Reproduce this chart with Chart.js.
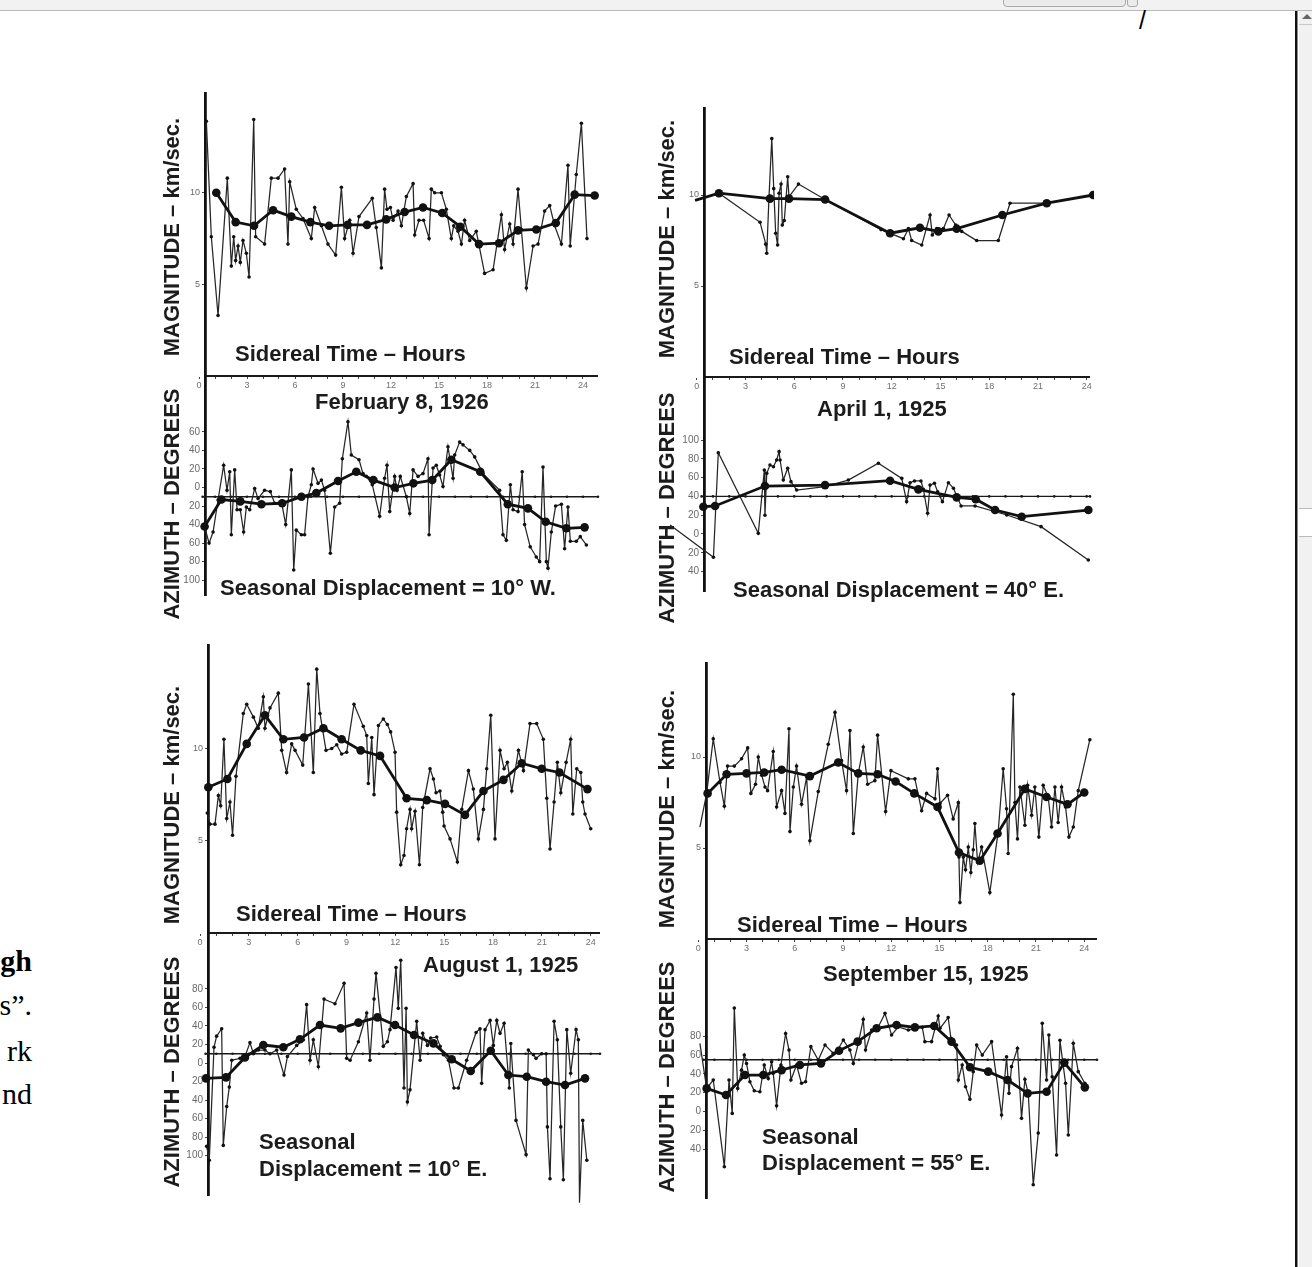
<!DOCTYPE html>
<html><head><meta charset="utf-8">
<script src="https://cdn.jsdelivr.net/npm/chart.js@4.4.1/dist/chart.umd.min.js"></script>
<style>
html,body{margin:0;padding:0;background:#fff;}
body{width:1312px;height:1267px;overflow:hidden;position:relative;font-family:"Liberation Sans",Arial,sans-serif;}
canvas{position:absolute;}
.t{position:absolute;font-weight:bold;font-size:22px;line-height:1;color:#1c1c1c;white-space:nowrap;transform:translateY(-50%);}
.r{position:absolute;font-weight:bold;font-size:22px;line-height:1;color:#1c1c1c;white-space:nowrap;transform:translate(-50%,-50%) rotate(-90deg);}
.frag{position:absolute;left:-300px;width:332px;text-align:right;font-family:"Liberation Serif","Times New Roman",serif;font-size:30px;line-height:1;color:#000;white-space:nowrap;}
</style></head><body>

<div style="position:absolute;left:0;top:0;width:1312px;height:10px;background:#f2f2f2;border-bottom:1px solid #b9b9b9;"></div>
<div style="position:absolute;left:1003px;top:-2px;width:121px;height:7px;background:#ebebeb;border:1px solid #a9a9a9;border-radius:0 0 4px 4px;"></div>
<div style="position:absolute;left:1127px;top:-2px;width:9px;height:7px;background:#ebebeb;border:1px solid #a9a9a9;border-radius:0 0 3px 3px;"></div>
<div style="position:absolute;left:1139px;top:8px;font-size:25px;line-height:1;font-family:'Liberation Sans',Arial,sans-serif;color:#000;">/</div>
<div style="position:absolute;left:1295px;top:11px;width:2px;height:1256px;background:#111;"></div>
<div style="position:absolute;left:1297px;top:11px;width:1px;height:1256px;background:#888;"></div>
<div style="position:absolute;left:1299px;top:11px;width:13px;height:1256px;background:#f1f1f1;"></div>
<div style="position:absolute;left:1299px;top:24px;width:13px;height:1px;background:#c8c8c8;"></div>
<div style="position:absolute;left:1302px;top:14px;width:0;height:0;border-left:5px solid transparent;border-right:5px solid transparent;border-bottom:5px solid #666;"></div>
<div style="position:absolute;left:1299px;top:508px;width:13px;height:27px;background:#fff;border-top:1px solid #bbb;border-bottom:1px solid #bbb;"></div>

<div class="frag" style="top:946px;font-weight:bold;">gh</div>
<div class="frag" style="top:990px;">s”.</div>
<div class="frag" style="top:1036px;">rk</div>
<div class="frag" style="top:1079px;">nd</div>

<script>
// ---------------- DATA (hours, value) ----------------
const hourTicks = [0,1,2,3,4,5,6,7,8,9,10,11,12,13,14,15,16,17,18,19,20,21,22,23,24];
const magTicks = [5,10];
const panelDates = ["February 8, 1926","April 1, 1925","August 1, 1925","September 15, 1925"];
const displacementDeg = [-10, 40, 10, 55];
const displacementText = ["Seasonal Displacement = 10° W.","Seasonal Displacement = 40° E.","Seasonal Displacement = 10° E.","Seasonal Displacement = 55° E."];
const febAzTicks = [60,40,20,0,-20,-40,-60,-80,-100];
const aprAzTicks = [100,80,60,40,20,0,-20,-40];
const augAzTicks = [80,60,40,20,0,-20,-40,-60,-80,-100];
const sepAzTicks = [80,60,40,20,0,-20,-40];

const febMagRaw = [[0.46,13.9],[0.77,7.6],[1.19,3.3],[1.77,10.8],[2.02,6.0],[2.17,7.6],[2.29,6.3],[2.44,7.1],[2.58,6.2],[2.75,7.4],[2.96,6.7],[3.13,5.4],[3.42,14.0],[3.54,7.6],[4.1,7.2],[4.52,10.8],[4.94,10.8],[5.35,11.3],[5.56,7.2],[5.67,10.6],[6.08,9.1],[6.5,8.6],[7.02,7.5],[7.23,9.2],[7.65,8.2],[8.06,7.2],[8.54,6.6],[8.9,10.3],[9.1,7.5],[9.42,8.5],[9.63,6.7],[10.0,8.7],[10.83,9.7],[11.08,8.1],[11.4,5.9],[11.6,10.2],[11.75,9.1],[11.96,9.2],[12.13,8.5],[12.44,9.0],[12.65,8.2],[12.96,9.8],[13.38,10.5],[13.48,7.7],[13.75,8.5],[14.04,8.5],[14.38,7.5],[14.52,10.2],[14.73,10.0],[15.15,10.0],[15.46,9.1],[15.77,7.5],[15.92,8.2],[16.19,7.9],[16.4,7.2],[16.6,8.5],[16.92,7.4],[17.33,7.9],[17.85,5.6],[18.38,5.8],[18.9,8.8],[19.1,6.9],[19.42,8.3],[19.63,7.2],[19.94,10.2],[20.15,8.0],[20.46,4.8],[20.88,7.1],[21.19,7.2],[21.6,9.0],[21.92,9.3],[22.23,8.2],[22.65,7.2],[23.06,11.5],[23.2,7.1],[23.58,11.0],[23.9,13.8],[24.25,7.5]];
const febMagSmooth = [[1.08,10.0],[2.29,8.4],[3.44,8.2],[4.63,9.05],[5.77,8.7],[6.96,8.4],[8.13,8.2],[9.29,8.25],[10.5,8.25],[11.7,8.55],[12.85,8.95],[14.0,9.2],[15.2,8.9],[16.33,8.15],[17.5,7.2],[18.75,7.25],[19.94,7.95],[21.08,8.0],[22.3,8.35],[23.48,9.9],[24.73,9.85]];
const febAzRaw = [[0.35,-42],[0.63,-60],[0.88,-48],[1.19,-13.5],[1.54,24],[1.75,-3],[1.92,17],[2.02,-51],[2.23,19],[2.38,-24],[2.58,-24],[2.79,-48],[2.96,-21],[3.17,-24],[3.48,-1],[3.69,-12],[4.1,-3],[4.46,-4.5],[4.73,-17],[5.15,-15],[5.42,-40],[5.77,19],[5.92,-89],[6.08,-46],[6.4,-51],[6.6,-51],[6.81,-10],[7.02,3],[7.13,20],[7.44,4.5],[7.65,8],[7.85,-3],[8.21,-71],[8.48,-21],[8.79,-17],[8.96,31],[9.31,71],[9.52,35],[10.0,30],[10.25,15],[10.46,12],[10.83,3],[11.29,-31],[11.6,10],[11.75,24],[11.92,-26],[12.23,12],[12.38,-3],[12.58,12],[12.96,-10],[13.17,-28],[13.38,19],[13.69,12],[14.0,15],[14.31,31],[14.38,-51],[14.63,21],[14.83,24],[15.04,13.5],[15.25,1],[15.56,44],[15.88,10],[15.98,35],[16.29,49],[16.5,46],[16.92,40],[17.23,33],[17.75,15],[18.79,-3],[19.0,-51],[19.21,-57],[19.46,3],[19.63,-24],[19.94,-26],[20.2,17],[20.35,-40],[20.7,-64],[21.08,-75],[21.29,-80],[21.5,22],[21.71,-80],[21.81,-87],[22.02,-48],[22.29,-20],[22.65,-18],[22.85,-66],[23.06,-21],[23.21,-58],[23.58,-58],[23.83,-53],[24.21,-62]];
const febAzSmooth = [[0.35,-42],[1.4,-13],[2.58,-15],[3.9,-18],[5.2,-17],[6.4,-10],[7.33,-6],[8.69,7],[9.83,17],[10.9,8],[12.23,0],[13.4,4.5],[14.58,8],[15.77,30],[17.58,17],[19.3,-18],[20.56,-22.5],[21.67,-37],[22.96,-44],[24.1,-43]];

const aprMagRaw = [[-0.1,9.7],[1.37,10.1],[3.9,8.5],[4.25,7.3],[4.31,6.8],[4.45,9.9],[4.62,13.1],[4.74,10.35],[4.86,7.9],[4.98,7.25],[5.07,10.1],[5.19,10.6],[5.27,8.35],[5.39,8.6],[5.6,11.0],[5.68,9.9],[6.26,10.6],[7.9,9.75],[11.34,8.1],[12.72,7.6],[13.03,8.15],[13.23,7.5],[13.85,7.25],[14.36,8.9],[14.5,7.8],[14.77,8.15],[15.18,8.15],[15.53,8.9],[15.94,8.35],[16.31,8.0],[17.23,7.5],[18.56,7.5],[19.28,9.55],[21.54,9.55],[24.4,10.0]];
const aprMagSmooth = [[-0.1,9.7],[1.37,10.1],[4.51,9.8],[5.68,9.8],[7.9,9.75],[11.9,7.9],[13.74,8.2],[14.87,8.0],[16.0,8.15],[18.81,8.9],[21.54,9.55],[24.4,10.0]];
const aprAzRaw = [[-1.64,9.6],[1.03,-24.8],[1.33,86.5],[3.79,0.7],[4.16,68],[4.2,20],[4.31,64.5],[4.51,73.4],[4.72,71.6],[4.92,78.7],[5.07,87.6],[5.13,78.7],[5.33,57.4],[5.6,70],[5.8,55.7],[6.15,46.8],[7.9,50.4],[9.33,57.4],[11.18,75.2],[12.62,59.2],[12.92,34.4],[13.13,54.6],[13.4,56.4],[13.8,56.4],[13.95,47.5],[14.21,22],[14.36,52],[14.63,54],[14.83,45],[15.12,34.4],[15.49,54.6],[15.8,48.6],[16.27,29.8],[17.13,29.8],[19.08,20.2],[21.19,7.8],[24.1,-27.7]];
const aprAzSmooth = [[0.41,29],[1.13,29.8],[4.2,51],[7.9,52],[11.9,56.7],[13.64,47.5],[16.0,39],[17.17,37],[18.36,25.5],[20.0,18.4],[24.1,25.5]];

const augMagRaw = [[0.45,6.5],[0.61,5.9],[0.92,5.9],[1.13,7.45],[1.27,6.9],[1.47,10.5],[1.64,6.2],[1.84,7.1],[2.0,5.3],[2.21,8.5],[2.66,11.9],[2.87,12.4],[3.28,11.7],[3.58,11.1],[3.89,12.8],[3.99,11.1],[4.3,12.2],[4.81,13.0],[5.02,9.9],[5.32,8.7],[5.63,10.25],[5.84,9.9],[6.31,9.1],[6.66,13.5],[6.96,8.7],[7.17,14.3],[7.37,11.9],[7.74,9.9],[8.09,10.0],[8.4,10.2],[8.7,9.7],[9.01,9.8],[9.46,12.4],[10.03,11.2],[10.24,10.7],[10.34,8.1],[10.55,10.6],[10.69,7.5],[10.96,11.25],[11.26,11.6],[11.51,11.3],[11.71,10.9],[11.98,9.8],[12.08,6.55],[12.33,3.7],[12.53,4.2],[12.69,5.65],[12.9,6.7],[13.0,5.65],[13.21,6.6],[13.48,3.7],[13.68,6.8],[14.13,8.9],[14.34,8.35],[14.5,7.6],[14.74,7.7],[14.91,6.55],[14.99,5.8],[15.36,5.1],[15.81,3.85],[16.08,6.7],[16.49,8.8],[16.79,7.8],[17.1,5.1],[17.41,6.7],[17.61,8.9],[17.86,11.8],[18.12,5.1],[18.43,9.9],[18.68,8.9],[18.88,9.25],[19.15,7.7],[19.56,9.9],[19.87,8.8],[20.27,11.35],[20.68,11.35],[21.09,10.5],[21.3,7.3],[21.5,4.55],[21.75,7.1],[21.95,9.25],[22.16,7.6],[22.49,9.25],[22.77,10.5],[22.9,6.45],[23.14,8.9],[23.39,8.7],[23.51,7.1],[23.65,6.45],[24.0,5.65]];
const augMagSmooth = [[0.51,7.9],[1.68,8.35],[2.87,10.25],[3.99,11.8],[5.12,10.5],[6.39,10.6],[7.58,11.1],[8.7,10.5],[9.87,9.9],[11.06,9.6],[12.69,7.3],[13.93,7.2],[15.05,7.0],[16.28,6.4],[17.41,7.7],[18.64,8.3],[19.76,9.2],[20.99,8.9],[22.08,8.7],[23.8,7.8]];
const augAzRaw = [[0.31,-16.6],[0.41,-90],[0.57,-105],[0.86,17],[1.02,29],[1.33,37],[1.43,-89],[1.64,-47],[1.8,-26],[1.95,3],[2.46,5],[2.76,7],[3.07,22],[3.28,10],[3.58,14],[3.99,14],[4.3,10],[4.71,14],[5.16,-13],[5.37,7],[5.94,19],[6.35,25],[6.55,63],[6.76,3],[6.96,25],[7.27,-4],[7.62,69],[8.29,64],[8.85,86],[9.01,5],[9.22,3],[9.73,23],[10.24,54],[10.44,3],[10.69,69],[10.81,97],[11.26,18],[11.51,23],[11.67,36],[12.04,103],[12.18,59],[12.33,111],[12.53,-27],[12.66,59],[12.74,-42],[12.9,-29],[13.31,45],[13.52,3],[13.68,32],[13.97,19],[14.17,27],[14.54,28],[14.75,18],[14.95,9],[15.26,3],[15.6,-27],[15.87,-27],[16.38,3],[16.96,33],[17.2,37],[17.3,-22],[17.51,36],[17.82,46],[18.02,19],[18.23,46],[18.43,32],[18.68,43],[19.0,-27],[19.09,21],[19.41,-62],[20.03,-99],[20.17,14],[20.48,9],[20.64,5],[20.99,10],[21.26,10],[21.34,-69],[21.5,-125],[21.75,45],[21.95,25],[22.16,-69],[22.32,-126],[22.53,36],[22.77,-11],[23.1,36],[23.24,25],[23.31,-151],[23.51,-62],[23.76,-105]];
const augAzSmooth = [[0.37,-16.6],[1.6,-15.5],[2.76,6],[3.89,19.4],[5.12,17],[6.14,25.6],[7.37,41],[8.64,37.4],[9.73,43.6],[10.9,49.3],[11.98,41],[13.15,30.2],[14.34,21.2],[15.46,4],[16.63,-8.6],[17.86,13.3],[18.94,-13],[20.07,-14.8],[21.26,-20.2],[22.42,-23.8],[23.65,-16.6]];

const sepMagRaw = [[0.1,6.15],[0.52,8.0],[0.93,11.0],[1.35,8.6],[1.62,7.3],[1.82,9.5],[2.24,9.5],[2.69,9.9],[3.07,10.5],[3.27,8.0],[3.56,8.5],[3.73,10.0],[3.94,9.0],[4.15,8.35],[4.31,8.15],[4.66,10.3],[4.87,7.25],[5.18,8.15],[5.39,6.9],[5.64,11.55],[5.7,5.9],[5.91,8.35],[6.11,9.5],[6.42,7.4],[6.74,8.9],[6.94,5.4],[7.46,8.1],[8.08,10.7],[8.5,12.45],[8.91,9.8],[9.22,8.15],[9.43,11.45],[9.64,5.8],[9.95,9.1],[10.26,10.55],[10.53,8.5],[10.98,8.7],[11.15,11.2],[11.65,7.0],[11.98,9.25],[13.06,8.8],[13.47,8.8],[13.89,7.05],[14.2,8.0],[14.72,7.7],[14.88,9.35],[15.03,7.45],[15.5,7.9],[15.85,6.6],[16.17,7.5],[16.21,4.5],[16.27,2.0],[16.48,4.5],[16.62,3.8],[16.79,5.05],[16.95,3.65],[17.1,4.9],[17.2,6.35],[17.37,4.2],[17.62,5.05],[18.13,2.55],[18.65,5.9],[18.96,9.35],[19.17,7.15],[19.27,4.7],[19.59,13.45],[19.69,7.5],[19.85,5.5],[20.0,8.35],[20.31,6.25],[20.48,8.45],[20.73,6.8],[20.93,8.35],[21.18,5.6],[21.45,8.45],[21.76,7.8],[21.97,6.15],[22.18,8.35],[22.38,6.4],[22.59,8.35],[22.84,7.25],[23.05,5.6],[23.32,6.15],[23.63,8.15],[24.35,10.95]];
const sepMagSmooth = [[0.58,8.0],[1.76,9.05],[3.0,9.1],[4.1,9.15],[5.18,9.3],[6.94,8.95],[8.7,9.7],[9.95,9.1],[11.15,9.05],[12.27,8.65],[13.43,8.0],[14.88,7.25],[16.21,4.75],[17.51,4.3],[18.61,5.8],[20.31,8.25],[21.66,7.8],[22.96,7.4],[24.0,8.05]];
const sepAzRaw = [[0.1,72.5],[0.52,24.6],[0.93,33.5],[1.62,-58.7],[1.91,33.5],[2.11,-2],[2.24,110],[2.45,24.6],[2.69,44],[2.86,60],[3.0,51],[3.21,31.7],[3.48,22],[3.83,21],[4.1,49.5],[4.35,35],[4.56,53],[4.66,40.6],[4.87,6],[5.14,49.5],[5.43,83],[5.64,65.4],[5.76,33.5],[6.11,49.5],[6.42,30],[6.67,31.7],[7.0,69],[7.46,54.8],[7.88,70.7],[8.39,62],[8.66,65.4],[9.02,76],[9.43,65.4],[9.64,51],[9.95,72.5],[10.26,98],[10.4,65.4],[10.78,86.7],[11.15,88.5],[11.61,104.4],[12.02,81.4],[12.44,90],[13.06,86.7],[13.93,89.5],[14.09,74.3],[14.51,74.3],[14.92,101.6],[15.03,88.5],[15.54,100],[15.71,77.8],[16.06,70.7],[16.17,33.5],[16.41,49.5],[16.62,26.4],[16.89,13],[17.1,42.4],[17.31,70.7],[17.66,60],[18.24,74.3],[18.86,-3.7],[19.17,58.3],[19.32,19.3],[19.48,47.7],[19.85,67.2],[20.1,-7.3],[20.31,34.2],[20.52,19.3],[20.83,-78],[21.14,-23],[21.39,93.8],[21.66,33.5],[21.8,81.4],[22.01,37],[22.28,-46.3],[22.49,75.7],[22.84,30],[23.01,-25],[23.32,72.5],[23.63,42.4],[24.04,30]];
const sepAzSmooth = [[0.52,24.6],[1.72,17.6],[2.9,38.8],[4.04,38.8],[5.18,44],[6.32,49.5],[7.63,51.2],[8.75,64.7],[9.91,74.3],[11.09,88.5],[12.33,92],[13.47,89.5],[14.67,91],[15.75,74.3],[16.9,47],[18.03,42.4],[19.23,33.5],[20.48,19.3],[21.66,21],[22.76,52],[24.04,25.7]];

// ---------------- LAYOUT (page pixel geometry) ----------------
const geom = [
  {x0:199,   k:16.0,  axisPx:205, rightPx:598,  mag:{top:92,    zero:376,   ppu:18.32}, az:{top:377, bottom:597,  zero:487.5,  ppd:0.927}},
  {x0:696.7, k:16.25, axisPx:704, rightPx:1090, mag:{top:106.7, zero:376.5, ppu:18.2},  az:{top:378, bottom:593,  zero:534,    ppd:0.94}},
  {x0:200,   k:16.28, axisPx:208, rightPx:600,  mag:{top:643.3, zero:932.5, ppu:18.45}, az:{top:934, bottom:1197, zero:1063,   ppd:0.926}},
  {x0:698.3, k:16.08, axisPx:706, rightPx:1097, mag:{top:661.7, zero:938.5, ppu:18.2},  az:{top:940, bottom:1200, zero:1111.5, ppd:0.94}}
];
const textPos = [
  {st:[235,354], date:[315,402], disp:[[220,588]], magL:[172,237], azL:[172,504]},
  {st:[729,357], date:[817,409], disp:[[733,590]], magL:[667,239], azL:[667,508]},
  {st:[236,914], date:[423,965], disp:[[259,1142],[259,1169]], magL:[172,805], azL:[172,1072]},
  {st:[737,925], date:[823,974], disp:[[762,1137],[762,1163]], magL:[667,809], azL:[667,1077]}
];

const toPts = arr => arr.map(p => ({x:p[0], y:p[1]}));
const FONT = '"Liberation Sans", Arial, sans-serif';
const L = 46, R = 4, T = 6, B = 20;

function rawDs(arr){ return {data:toPts(arr), borderColor:'#262626', borderWidth:1.25, pointRadius:1.8, pointBackgroundColor:'#111', pointBorderWidth:0, tension:0, clip:false, order:2}; }
function smDs(arr){ return {data:toPts(arr), borderColor:'#111', borderWidth:2.8, pointRadius:4.3, pointBackgroundColor:'#111', pointBorderWidth:0, tension:0, clip:false, order:1}; }

function makeChart(opt){
  const xb = opt.xAxis ? B : 0;
  const w = Math.round(opt.areaW) + L + R;
  const h = Math.round(opt.areaH) + T + B;
  const cv = document.createElement('canvas');
  cv.width = w; cv.height = h; cv.style.width = w + 'px'; cv.style.height = h + 'px';
  cv.style.left = (opt.areaLeft - L) + 'px'; cv.style.top = (opt.areaTop - T) + 'px';
  document.body.appendChild(cv);
  const chart = new Chart(cv, {
    type:'line',
    data:{datasets:opt.datasets},
    options:{
      responsive:false, maintainAspectRatio:false, animation:false, devicePixelRatio:1,
      layout:{padding:{left:0, right:R, top:T, bottom: B - xb}},
      plugins:{legend:{display:false}, tooltip:{enabled:false}, title:{display:false}},
      scales:{
        x:{type:'linear', display: opt.xAxis, min:opt.xMin, max:opt.xMax, position:'bottom',
           afterBuildTicks: s => { s.ticks = hourTicks.map(v => ({value:v})); },
           afterFit: s => { s.height = xb; },
           ticks:{autoSkip:false, maxRotation:0, minRotation:0, font:{size:9, family:FONT}, color:'#707070', padding:1,
                  callback: v => (v % 3 === 0 ? String(v) : '')},
           grid:{display:true, drawOnChartArea:false, drawTicks:true, tickLength:3, color:'#444', lineWidth:1},
           border:{display:true, color:'#1a1a1a', width:2}},
        y:{type:'linear', min:opt.yMin, max:opt.yMax, position:'left',
           afterBuildTicks: s => { s.ticks = opt.yTicks.map(v => ({value:v})); },
           afterFit: s => { s.width = L; },
           ticks:{autoSkip:false, font:{size:opt.yFont, family:FONT}, color:'#6a6a6a', padding:2, callback: opt.yFmt},
           grid:{display:true, drawOnChartArea:false, drawTicks:true, tickLength:3, color:'#444', lineWidth:1},
           border:{display:true, color:'#111', width:2.8}}
      }
    }
  });
  // calibrate scales so values land on the page pixels of the reference
  for (let it = 0; it < 2; it++) {
    const ca = chart.chartArea;
    const g = opt.g;
    const pageLeft = opt.areaLeft;
    cv.style.left = (pageLeft - ca.left) + 'px';
    chart.options.scales.x.min = (pageLeft - g.x0) / g.k;
    chart.options.scales.x.max = (pageLeft + (ca.right - ca.left) - g.x0) / g.k;
    const H = ca.bottom - ca.top;
    if (opt.kind === 'mag') {
      cv.style.top = (opt.m.zero - ca.bottom) + 'px';
      chart.options.scales.y.min = 0;
      chart.options.scales.y.max = H / opt.m.ppu;
    } else {
      cv.style.top = (opt.a.top - ca.top) + 'px';
      const ymax = (opt.a.zero - opt.a.top) / opt.a.ppd;
      chart.options.scales.y.max = ymax;
      chart.options.scales.y.min = ymax - H / opt.a.ppd;
    }
    chart.update('none');
  }
  return chart;
}

const magSets = [[febMagRaw,febMagSmooth],[aprMagRaw,aprMagSmooth],[augMagRaw,augMagSmooth],[sepMagRaw,sepMagSmooth]];
const azSets = [[febAzRaw,febAzSmooth],[aprAzRaw,aprAzSmooth],[augAzRaw,augAzSmooth],[sepAzRaw,sepAzSmooth]];
const azTickSets = [febAzTicks, aprAzTicks, augAzTicks, sepAzTicks];

function addText(cls, txt, x, y){
  const d = document.createElement('div');
  d.className = cls; d.textContent = txt;
  d.style.left = x + 'px'; d.style.top = y + 'px';
  document.body.appendChild(d);
}

for (let i = 0; i < 4; i++) {
  const g = geom[i];
  const xMin = (g.axisPx - g.x0) / g.k, xMax = (g.rightPx - g.x0) / g.k;
  makeChart({kind:'mag', g, m:g.mag, areaLeft:g.axisPx, areaTop:g.mag.top, areaW:g.rightPx - g.axisPx, areaH:g.mag.zero - g.mag.top,
    xAxis:true, xMin, xMax, yMin:0, yMax:(g.mag.zero - g.mag.top)/g.mag.ppu, yTicks:magTicks, yFont:9, yFmt: v => String(v),
    datasets:[smDs(magSets[i][1]), rawDs(magSets[i][0])]});
  const refHours = [xMin - 0.15].concat(hourTicks.filter(v => v > xMin)).concat([xMax]);
  const refDs = {data: refHours.map(hh => ({x:hh, y:displacementDeg[i]})), borderColor:'#1a1a1a', borderWidth:1.4,
                 pointRadius:1.3, pointBackgroundColor:'#1a1a1a', pointBorderWidth:0, clip:false, order:3};
  makeChart({kind:'az', g, a:g.az, areaLeft:g.axisPx, areaTop:g.az.top, areaW:g.rightPx - g.axisPx, areaH:g.az.bottom - g.az.top,
    xAxis:false, xMin, xMax, yMin:-100, yMax:100, yTicks:azTickSets[i], yFont:10, yFmt: v => String(Math.abs(v)),
    datasets:[smDs(azSets[i][1]), rawDs(azSets[i][0]), refDs]});
}

for (let i = 0; i < 4; i++) {
  const tp = textPos[i];
  addText('t', 'Sidereal Time – Hours', tp.st[0], tp.st[1]);
  addText('t', panelDates[i], tp.date[0], tp.date[1]);
  if (tp.disp.length === 1) {
    addText('t', displacementText[i], tp.disp[0][0], tp.disp[0][1]);
  } else {
    const parts = displacementText[i].split(' ');
    addText('t', parts[0], tp.disp[0][0], tp.disp[0][1]);
    addText('t', parts.slice(1).join(' '), tp.disp[1][0], tp.disp[1][1]);
  }
  addText('r', 'MAGNITUDE – km/sec.', tp.magL[0], tp.magL[1]);
  addText('r', 'AZIMUTH – DEGREES', tp.azL[0], tp.azL[1]);
}
</script>
</body></html>
